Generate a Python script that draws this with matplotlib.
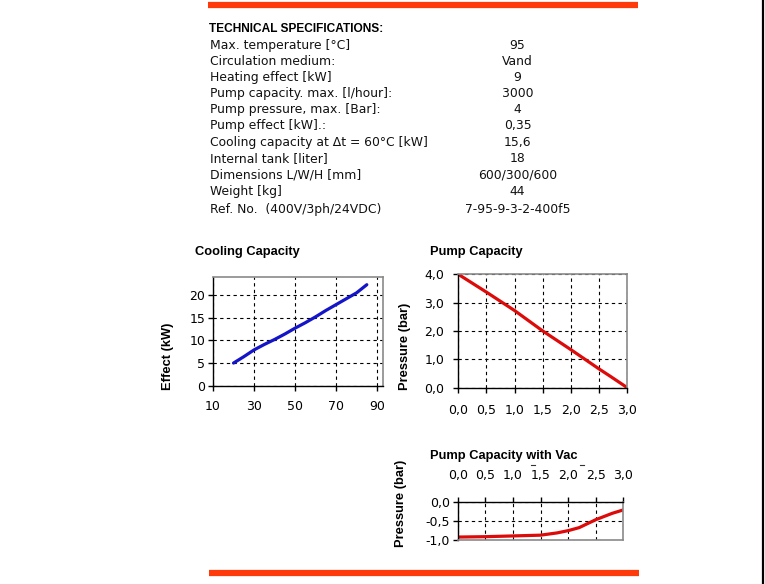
import matplotlib
matplotlib.use("Agg")
import matplotlib.pyplot as plt
from matplotlib.lines import Line2D

W, H = 765, 584

# ---------------- data ----------------
spec_labels = [
    "Max. temperature [°C]",
    "Circulation medium:",
    "Heating effect [kW]",
    "Pump capacity. max. [l/hour]:",
    "Pump pressure, max. [Bar]:",
    "Pump effect [kW].:",
    "Cooling capacity at Δt = 60°C [kW]",
    "Internal tank [liter]",
    "Dimensions L/W/H [mm]",
    "Weight [kg]",
    "Ref. No.  (400V/3ph/24VDC)",
]
spec_values = ["95", "Vand", "9", "3000", "4", "0,35", "15,6", "18",
               "600/300/600", "44", "7-95-9-3-2-400f5"]

cool_x = [20, 25, 30, 35, 40, 45, 50, 55, 60, 65, 70, 75, 80, 85]
cool_y = [5.0, 6.4, 7.9, 9.1, 10.2, 11.4, 12.7, 13.9, 15.2, 16.6, 17.9, 19.2, 20.5, 22.3]
cool_xticks = [10, 30, 50, 70, 90]
cool_yticks = [0, 5, 10, 15, 20]

pump_x = [0.0, 0.5, 1.0, 1.5, 2.0, 2.5, 2.7, 3.0]
pump_y = [4.0, 3.37, 2.72, 2.0, 1.34, 0.66, 0.4, 0.0]
pump_ticks_x = [0.0, 0.5, 1.0, 1.5, 2.0, 2.5, 3.0]
pump_ticks_y = [0.0, 1.0, 2.0, 3.0, 4.0]

vac_x = [0.0, 0.5, 1.0, 1.5, 1.8, 2.0, 2.2, 2.5, 2.8, 3.0]
vac_y = [-0.93, -0.92, -0.90, -0.88, -0.82, -0.76, -0.68, -0.47, -0.30, -0.21]
vac_ticks_y = [-1.0, -0.5, 0.0]

# ---------------- helpers ----------------
def fx(px):
    return px / W

def fy(py):
    return 1 - py / H

def comma(v, nd=1):
    return f"{v:.{nd}f}".replace(".", ",")

fig = plt.figure(figsize=(W / 100, H / 100), dpi=100)
fig.patch.set_facecolor("white")

ORANGE = "#ff3a0a"
SPEC_FONT = "DejaVu Sans"
CH_FONT = "Liberation Sans"
TICK_FONT = "DejaVu Sans"

# orange rules
fig.add_artist(Line2D([fx(208), fx(638)], [fy(4.5), fy(4.5)], color=ORANGE, lw=4.5,
                      transform=fig.transFigure, solid_capstyle="butt"))
fig.add_artist(Line2D([fx(209), fx(639)], [fy(573), fy(573)], color=ORANGE, lw=4.5,
                      transform=fig.transFigure, solid_capstyle="butt"))
# right black border
fig.add_artist(Line2D([fx(763), fx(763)], [0, 1], color="black", lw=1.6,
                      transform=fig.transFigure))

# ---------------- specification table ----------------
fig.text(fx(209), fy(32.3), "TECHNICAL SPECIFICATIONS:", fontsize=8.6,
         fontweight="bold", family="Liberation Sans", va="baseline", ha="left")
row_y = [49.3, 65, 81, 96.7, 113.3, 129.3, 146, 162, 178.3, 195, 213.3]
for lab, val, y in zip(spec_labels, spec_values, row_y):
    fig.text(fx(210), fy(y), lab, fontsize=8.95, family=SPEC_FONT,
             va="baseline", ha="left", color="#111111")
    fig.text(fx(517.5), fy(y), val, fontsize=8.95, family=SPEC_FONT,
             va="baseline", ha="center", color="#111111")


def style_axes(ax, black=("left", "bottom"), gray=("top", "right")):
    for s in black:
        ax.spines[s].set_color("black")
        ax.spines[s].set_linewidth(1.0)
    for s in gray:
        ax.spines[s].set_color("#8a8a8a")
        ax.spines[s].set_linewidth(1.2)
    ax.grid(True, color="black", linestyle=(0, (3, 3)), linewidth=0.8)
    ax.set_axisbelow(True)
    ax.tick_params(direction="out", length=3.5, width=1.0, labelsize=9,
                   colors="black")
    for t in ax.get_xticklabels() + ax.get_yticklabels():
        t.set_family(TICK_FONT)


# ---------------- Cooling Capacity ----------------
ax1 = fig.add_axes([fx(213), fy(385.7), fx(383) - fx(213), (385.7 - 277) / H])
ax1.plot(cool_x, cool_y, color="#1414c8", lw=2.3, solid_capstyle="round")
ax1.set_xlim(10, 92.9)
ax1.set_ylim(0, 24)
ax1.set_xticks(cool_xticks)
ax1.set_yticks(cool_yticks)
ax1.set_xticklabels([str(v) for v in cool_xticks])
ax1.set_yticklabels([str(v) for v in cool_yticks])
style_axes(ax1)
ax1.tick_params(axis="x", pad=7)
ax1.tick_params(axis="y", pad=2)
fig.text(fx(195), fy(255), "Cooling Capacity", fontsize=9.3, fontweight="bold",
         family=CH_FONT, va="baseline", ha="left")
fig.text(fx(168), fy(356), "Effect (kW)", fontsize=9.3, fontweight="bold",
         family=CH_FONT, rotation=90, va="center", ha="center")

# ---------------- Pump Capacity ----------------
ax2 = fig.add_axes([fx(458.3), fy(387.7), fx(627.3) - fx(458.3), (387.7 - 274.3) / H])
ax2.plot(pump_x, pump_y, color="#dd0a0a", lw=2.3, solid_capstyle="round")
ax2.set_xlim(0, 3)
ax2.set_ylim(0, 4)
ax2.set_xticks(pump_ticks_x)
ax2.set_yticks(pump_ticks_y)
ax2.set_xticklabels([comma(v) for v in pump_ticks_x])
ax2.set_yticklabels([comma(v) for v in pump_ticks_y])
style_axes(ax2)
ax2.tick_params(axis="x", pad=8)
ax2.tick_params(axis="y", pad=6.5)
fig.text(fx(430), fy(255), "Pump Capacity", fontsize=9.3, fontweight="bold",
         family=CH_FONT, va="baseline", ha="left")
fig.text(fx(405), fy(346), "Pressure (bar)", fontsize=9.3, fontweight="bold",
         family=CH_FONT, rotation=90, va="center", ha="center")

# ---------------- Pump Capacity with Vac ----------------
ax3 = fig.add_axes([fx(457.7), fy(539.7), fx(623.3) - fx(457.7), (539.7 - 502) / H])
ax3.plot(vac_x, vac_y, color="#dd0a0a", lw=2.3, solid_capstyle="round")
ax3.set_xlim(0, 3)
ax3.set_ylim(-1, 0)
ax3.xaxis.tick_top()
ax3.set_xticks(pump_ticks_x)
ax3.set_yticks(vac_ticks_y)
ax3.set_xticklabels([comma(v) for v in pump_ticks_x])
ax3.set_yticklabels([comma(v) for v in vac_ticks_y])
style_axes(ax3, black=("left", "top"), gray=("bottom", "right"))
ax3.tick_params(axis="x", pad=11, top=True, bottom=False)
ax3.tick_params(axis="y", pad=2)
fig.text(fx(430), fy(459), "Pump Capacity with Vac", fontsize=9.3,
         fontweight="bold", family=CH_FONT, va="baseline", ha="left")
fig.text(fx(401), fy(503), "Pressure (bar)", fontsize=9.3, fontweight="bold",
         family=CH_FONT, rotation=90, va="center", ha="center")
for xp in (533, 582):
    fig.add_artist(Line2D([fx(xp - 2), fx(xp + 2)], [fy(465), fy(465)], color="#333333",
                          lw=0.8, transform=fig.transFigure))

fig.savefig("out.png", dpi=100, facecolor="white")
